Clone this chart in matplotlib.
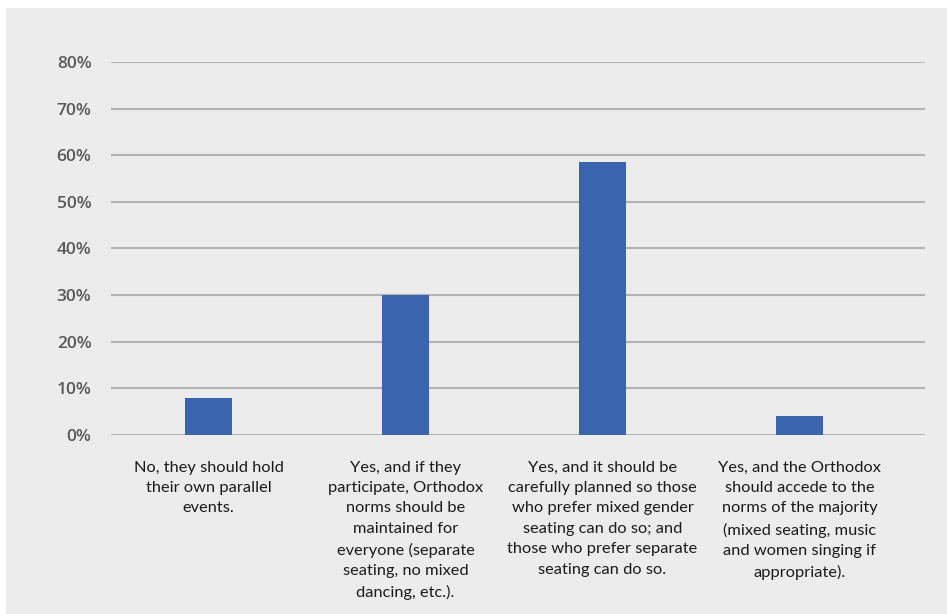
import matplotlib

matplotlib.use("Agg")
import matplotlib.pyplot as plt
from matplotlib.patches import Rectangle
from matplotlib.ticker import FuncFormatter

categories = [
    "No, they should hold\ntheir own parallel\nevents.",
    "Yes, and if they\nparticipate, Orthodox\nnorms should be\nmaintained for\neveryone (separate\nseating, no mixed\ndancing, etc.).",
    "Yes, and it should be\ncarefully planned so those\nwho prefer mixed gender\nseating can do so; and\nthose who prefer separate\nseating can do so.",
    "Yes, and the Orthodox\nshould accede to the\nnorms of the majority\n(mixed seating, music\nand women singing if\nappropriate).",
]
values = [8, 30, 58.5, 4]
y_ticks = [0, 10, 20, 30, 40, 50, 60, 70, 80]

W, H = 947, 614
bg = "#ececec"

fig = plt.figure(figsize=(W / 100, H / 100), dpi=100)
fig.patch.set_facecolor("white")
fig.patches.append(
    Rectangle((6 / W, 0), 1 - 6 / W, 1 - 8 / H, transform=fig.transFigure,
              facecolor=bg, edgecolor="none", zorder=-10)
)

# axes spans gridline extent: x 111..925, y 62 (80%) .. 435 (0%)
ax = fig.add_axes([111 / W, 1 - 435 / H, (925 - 111) / W, (435 - 62) / H])
ax.set_facecolor(bg)
ax.patch.set_alpha(0)

x = list(range(len(values)))
ax.bar(x, values, width=0.239, color="#3a64ad", zorder=3)

ax.set_ylim(0, 80)
ax.set_xlim(-0.495, 3.637)
ax.set_yticks(y_ticks)
ax.yaxis.set_major_formatter(FuncFormatter(lambda v, _: f"{v:.0f}%"))
ax.grid(axis="y", color="#b3b3b3", linewidth=1.5, zorder=0)
ax.tick_params(axis="y", length=0, pad=14, labelsize=12.5, labelcolor="#595959")
ax.tick_params(axis="x", length=0)
ax.set_xticks([])
for label in ax.get_yticklabels():
    label.set_fontfamily("Open Sans")
    label.set_fontweight("semibold")
for spine in ax.spines.values():
    spine.set_visible(False)

for xi, text in zip(x, categories):
    ax.annotate(text, xy=(xi, 0), xycoords=("data", "axes fraction"),
                xytext=(0, -18.5), textcoords="offset points",
                ha="center", va="top", fontsize=11.8, color="#1a1a1a",
                family="Lato", linespacing=1.58)

fig.savefig("out.png", dpi=100, facecolor=fig.get_facecolor())
